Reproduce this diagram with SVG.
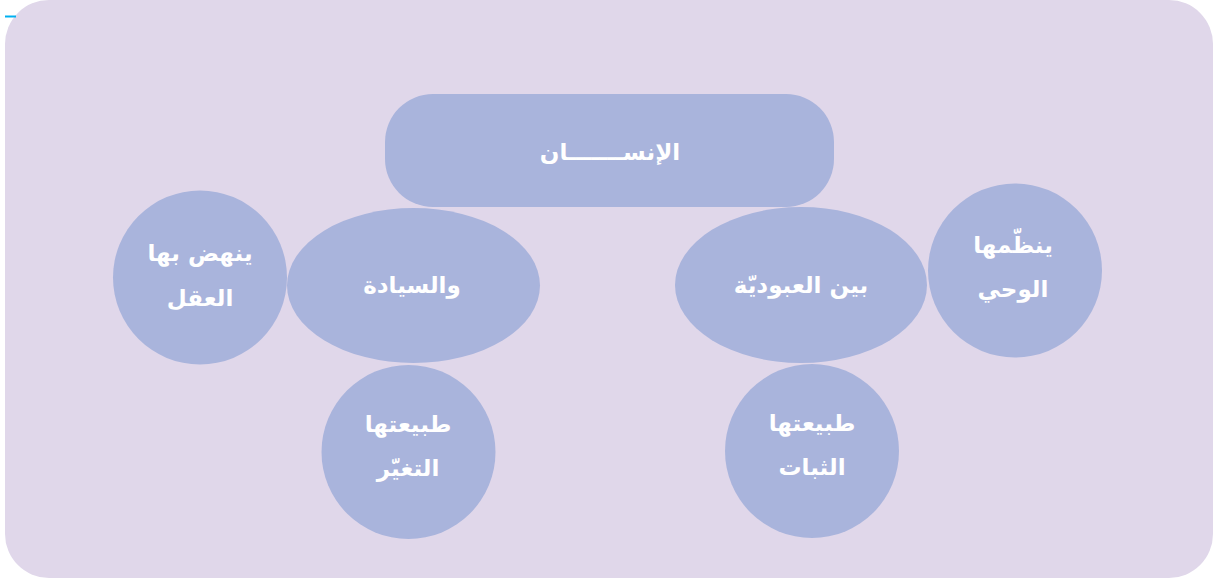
<svg xmlns="http://www.w3.org/2000/svg" width="1214" height="580" viewBox="0 0 1214 580">
<style>
.bg{fill:#E0D7EA}
.node{fill:#A9B4DC}
.t{fill:#FFFFFF;font-family:"DejaVu Sans","Noto Sans",sans-serif;font-weight:bold;font-size:23px;text-anchor:middle}
</style>
<rect class="bg" x="5" y="0" width="1208" height="578" rx="44" ry="44"/>
<line x1="5" y1="16.5" x2="16" y2="16.5" stroke="#00B0F0" stroke-width="2"/>
<g id="connectors"></g>
<g id="n-insan">
<rect class="node" x="385" y="94" width="449" height="113" rx="48" ry="48"/>
<text class="t" x="610" y="160">الإنســـــــان</text>
</g>
<g id="n-siyada">
<ellipse class="node" cx="413.5" cy="285.5" rx="126.5" ry="77.5"/>
<text class="t" x="412" y="293">والسيادة</text>
</g>
<g id="n-ubudiya">
<ellipse class="node" cx="801" cy="285" rx="126" ry="78"/>
<text class="t" x="801" y="293">بين العبوديّة</text>
</g>
<g id="n-aql">
<circle class="node" cx="200" cy="277.5" r="87"/>
<text class="t" x="200" y="261">ينهض بها</text>
<text class="t" x="200" y="306">العقل</text>
</g>
<g id="n-wahy">
<circle class="node" cx="1015" cy="270.5" r="87"/>
<text class="t" x="1013" y="253">ينظّمها</text>
<text class="t" x="1013" y="297">الوحي</text>
</g>
<g id="n-taghayyur">
<circle class="node" cx="408.5" cy="452" r="87"/>
<text class="t" x="408" y="432">طبيعتها</text>
<text class="t" x="408" y="476">التغيّر</text>
</g>
<g id="n-thabat">
<circle class="node" cx="812" cy="451" r="87"/>
<text class="t" x="812" y="431">طبيعتها</text>
<text class="t" x="812" y="475">الثبات</text>
</g>
</svg>
